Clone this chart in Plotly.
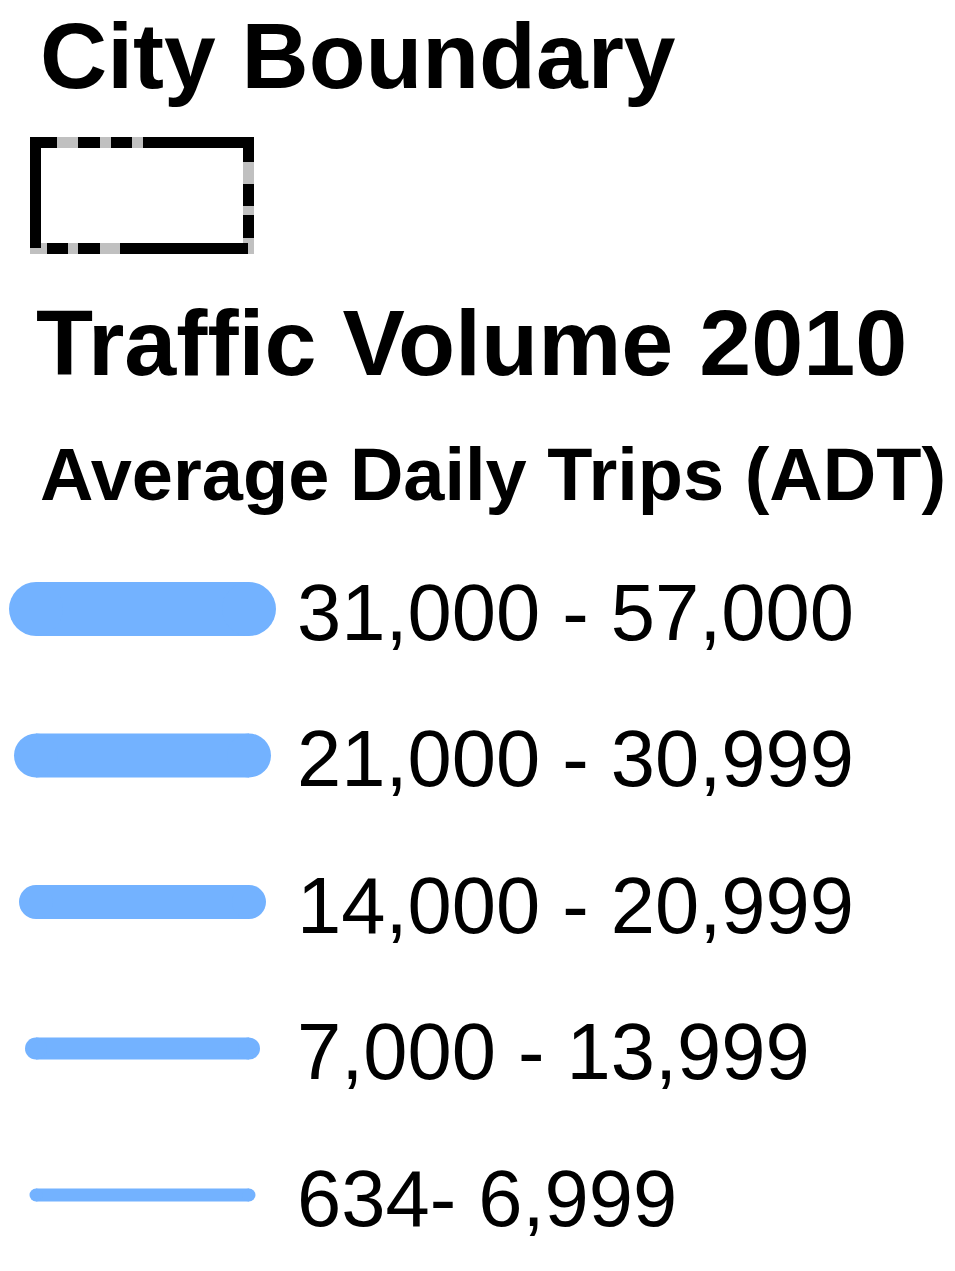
import plotly.graph_objects as go

# ---- data ----
boundary_title = "City Boundary"
volume_title = "Traffic Volume 2010"
volume_subtitle = "Average Daily Trips (ADT)"
range_labels = ["31,000 - 57,000", "21,000 - 30,999", "14,000 - 20,999",
                "7,000 - 13,999", "634- 6,999"]

# ---- style ----
W, H = 955, 1271
BLUE = "rgb(115,178,255)"
FONT = "Arial, Liberation Sans, Helvetica, sans-serif"
line_widths = [54, 44, 34, 22, 13]
row_y0, row_dy = 609, 146.5
line_x0, line_x1 = 36, 249

fig = go.Figure()

for i, (lab, w) in enumerate(zip(range_labels, line_widths)):
    yc = row_y0 + i * row_dy
    fig.add_trace(go.Scatter(
        x=[line_x0, line_x1], y=[yc, yc], mode="lines+markers",
        line=dict(color=BLUE, width=w),
        marker=dict(color=BLUE, size=w, line=dict(width=0)),
        hoverinfo="skip", showlegend=False))
    S = 79.5
    baseline = yc + 31
    fig.add_annotation(x=295, y=baseline - 0.3465 * S, xref="x", yref="y",
                       text=lab, showarrow=False, xanchor="left", yanchor="middle",
                       font=dict(family=FONT, size=S, color="black"))

def title(txt, x, baseline, S):
    fig.add_annotation(x=x, y=baseline - 0.3465 * S, xref="x", yref="y",
                       text="<b>%s</b>" % txt, showarrow=False,
                       xanchor="left", yanchor="middle",
                       font=dict(family=FONT, size=S, color="black"))

title(boundary_title, 38, 88, 93)
title(volume_title, 34, 375, 93.5)
title(volume_subtitle, 38, 500, 74)

# city boundary symbol: grey base outline with black dashes over it
bw = 11
L, R, T, B = 35.5, 248.5, 142.5, 248.5
fig.add_shape(type="rect", x0=L, x1=R, y0=T, y1=B, xref="x", yref="y",
              line=dict(color="#c0c0c0", width=bw), fillcolor="white")
black_paths = [
    "M 35.5 248 L 35.5 142.5 L 57 142.5",
    "M 78 142.5 L 100 142.5", "M 111 142.5 L 132 142.5",
    "M 143 142.5 L 248.5 142.5 L 248.5 162",
    "M 248.5 184 L 248.5 206", "M 248.5 215 L 248.5 238",
    "M 47 248.5 L 68 248.5", "M 78 248.5 L 100 248.5",
    "M 120 248.5 L 248 248.5",
]
for p in black_paths:
    fig.add_shape(type="path", path=p, xref="x", yref="y",
                  line=dict(color="black", width=bw))

fig.update_xaxes(range=[0, W], visible=False, fixedrange=True)
fig.update_yaxes(range=[H, 0], visible=False, fixedrange=True)
fig.update_layout(width=W, height=H, margin=dict(l=0, r=0, t=0, b=0),
                  paper_bgcolor="white", plot_bgcolor="white",
                  showlegend=False)

fig.write_html("out.html", config={"displayModeBar": False},
               post_script="document.body.style.margin='0';"
                           "document.body.style.overflow='hidden';")
